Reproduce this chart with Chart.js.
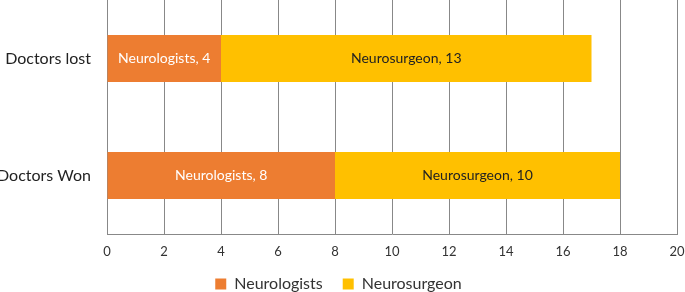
<!DOCTYPE html>
<html>
<head>
<meta charset="utf-8">
<script src="https://cdn.jsdelivr.net/npm/chart.js@4"></script>
<style>
  html, body { margin: 0; padding: 0; background: #fff; }
  #wrap { width: 685px; height: 292px; }
</style>
</head>
<body>
<div id="wrap"><canvas id="grafico"></canvas></div>
<script>
var categorias = ['Doctors lost', 'Doctors Won'];
var neurologos = [4, 8];
var neurocirujanos = [13, 10];
var nombres = ['Neurologists', 'Neurosurgeon'];

var fuente = 'Lato, "Open Sans", sans-serif';

// etiquetas dentro de las barras
var etiquetas = {
    id: 'etiquetas',
    afterDatasetsDraw: function (chart) {
        var ctx = chart.ctx;
        ctx.save();
        ctx.font = '14px ' + fuente;
        ctx.textAlign = 'center';
        ctx.textBaseline = 'middle';
        chart.data.datasets.forEach(function (ds, i) {
            var meta = chart.getDatasetMeta(i);
            meta.data.forEach(function (el, j) {
                ctx.fillStyle = i === 0 ? '#ffffff' : '#222222';
                ctx.fillText(ds.label + ', ' + ds.data[j], (el.x + el.base) / 2, el.y);
            });
        });
        ctx.restore();
    }
};

var ctx = document.getElementById('grafico').getContext('2d');
var chart = new Chart(ctx, {
    type: 'bar',
    data: {
        labels: categorias,
        datasets: [{
            label: nombres[0],
            data: neurologos,
            backgroundColor: '#ED7D31',
            categoryPercentage: 1,
            barPercentage: 0.4
        }, {
            label: nombres[1],
            data: neurocirujanos,
            backgroundColor: '#FFC000',
            categoryPercentage: 1,
            barPercentage: 0.4
        }]
    },
    options: {
        indexAxis: 'y',
        responsive: true,
        maintainAspectRatio: false,
        animation: false,
        layout: { padding: { top: 0, right: 8, bottom: -10, left: 0 } },
        scales: {
            x: {
                stacked: true,
                min: 0,
                max: 20,
                ticks: { stepSize: 2, color: '#333', font: { family: fuente, size: 13 }, padding: 10 },
                grid: { color: '#888', drawTicks: false },
                border: { color: '#888' },
                afterFit: function (s) { s.height = 22; s.paddingRight = 0; s.paddingLeft = 0; }
            },
            y: {
                stacked: true,
                ticks: { color: '#222', font: { family: fuente, size: 16 }, padding: 8 },
                grid: { display: false },
                border: { display: true, color: '#888' },
                afterFit: function (s) { s.width = 107; s.paddingTop = 0; s.paddingBottom = 0; }
            }
        },
        plugins: {
            legend: {
                position: 'bottom',
                labels: {
                    boxWidth: 11,
                    boxHeight: 11,
                    color: '#333',
                    font: { family: fuente, size: 16 },
                    padding: 20
                }
            },
            tooltip: { enabled: false }
        }
    },
    plugins: [etiquetas]
});
</script>
</body>
</html>
